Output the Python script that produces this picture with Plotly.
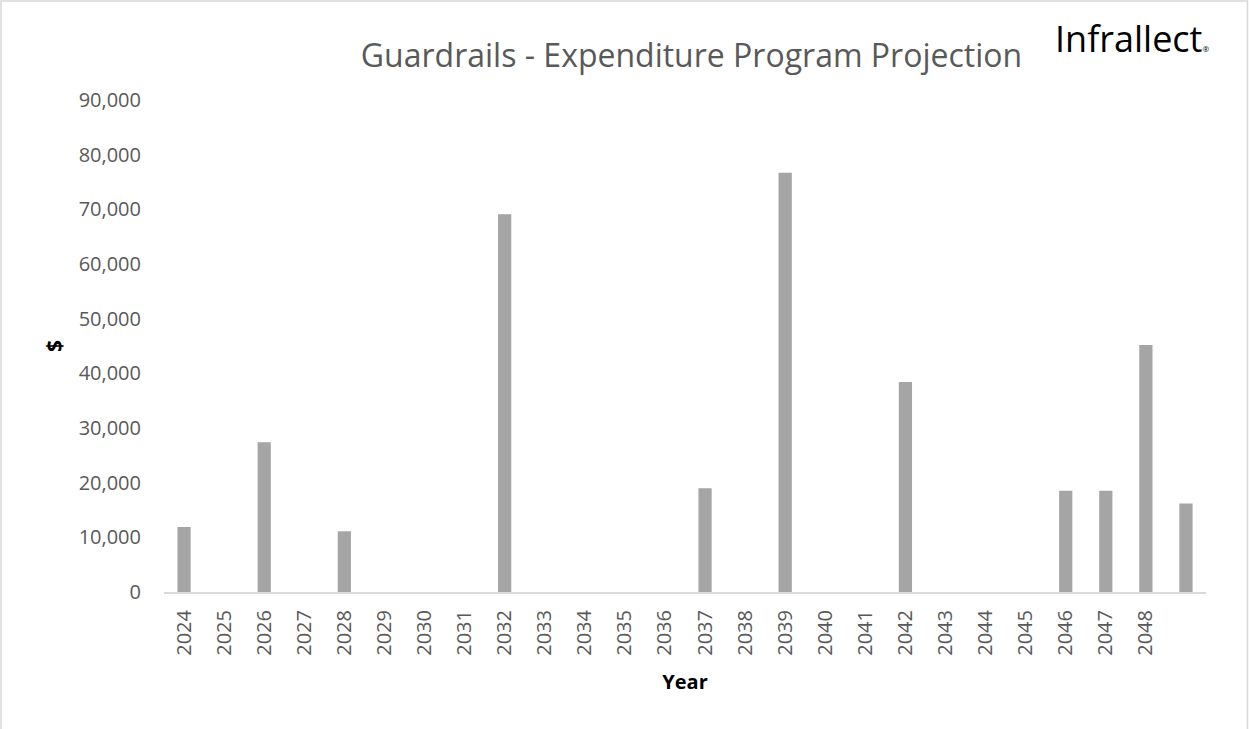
import plotly.graph_objects as go

years = [str(y) for y in range(2024, 2049)] + [""]
categories = list(range(len(years)))
values = [11900, 0, 27400, 0, 11100, 0, 0, 0, 69100, 0, 0, 0, 0, 19000, 0,
          76700, 0, 0, 38400, 0, 0, 0, 18500, 18500, 45200, 16200]
y_ticks = list(range(0, 90001, 10000))
y_tick_labels = [f"{v:,}" for v in y_ticks]

W, H = 1249, 729
ml, mr, mt, mb = 164, 43, 100, 137
pw = W - ml - mr
ph = H - mt - mb

fig = go.Figure()
fig.add_trace(go.Bar(
    x=categories, y=values,
    marker=dict(color="#a5a5a5", line=dict(width=0)),
    width=0.33,
))

font = "'Open Sans', sans-serif"
fig.update_layout(
    width=W, height=H,
    margin=dict(l=ml, r=mr, t=mt, b=mb),
    paper_bgcolor="white", plot_bgcolor="white",
    showlegend=False,
    font=dict(family=font, color="#595959"),
    title=dict(text="Guardrails - Expenditure Program Projection",
               x=(358 + 1025) / 2 / W, xanchor="center",
               y=1 - 56 / H, yanchor="middle",
               font=dict(size=32, color="#595959", family=font)),
    xaxis=dict(
        tickmode="array", tickvals=categories, ticktext=years,
        tickangle=-90, range=[-0.5, len(years) - 0.5],
        showline=True, linecolor="#d9d9d9", linewidth=2,
        ticks="", showgrid=False, zeroline=False,
        tickfont=dict(size=20, color="#595959"), ticklabelstandoff=8,
        title=dict(text="<b>Year</b>", font=dict(size=20, color="black"), standoff=20),
    ),
    yaxis=dict(
        range=[0, 90000], tickmode="array", tickvals=y_ticks, ticktext=y_tick_labels,
        showgrid=False, zeroline=False, showline=False, ticks="",
        tickfont=dict(size=20, color="#595959"), ticklabelstandoff=22,
        title=dict(text="<b>$</b>", font=dict(size=21, color="black"), standoff=10),
    ),
    shapes=[dict(type="rect", xref="paper", yref="paper",
                 x0=(-ml + 1) / pw, x1=(W - ml - 1.5) / pw,
                 y0=-(mb + 5) / ph, y1=1 + (mt - 1) / ph,
                 line=dict(color="#d9d9d9", width=1.5), fillcolor="rgba(0,0,0,0)", layer="below")],
    annotations=[dict(text="Infrallect<span style='font-size:8px'>®</span>", xref="paper", yref="paper",
                      x=(1053 - ml) / pw, y=1 + (mt - 38) / ph,
                      xanchor="left", yanchor="middle",
                      showarrow=False, font=dict(size=36, color="black", family=font))],
)

fig.write_html("out.html", config={"displayModeBar": False},
               post_script="document.body.style.margin='0';")
